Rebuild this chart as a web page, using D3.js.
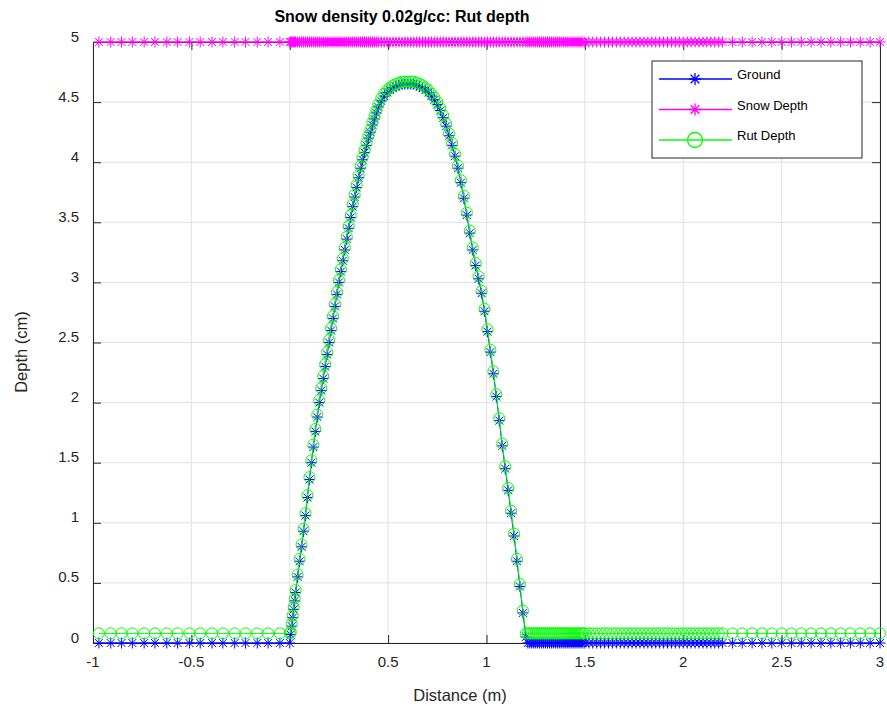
<!DOCTYPE html>
<html>
<head>
<meta charset="utf-8">
<script src="https://cdn.jsdelivr.net/npm/d3@7"></script>
<style>
  body { margin: 0; background: #fff; }
  text { font-family: "Liberation Sans", Arial, sans-serif; }
</style>
</head>
<body>
<div id="chart"></div>
<script>
// sample positions (m) before the rut, across the rut, and after it
var leftX = [-0.97, -0.91, -0.855, -0.8, -0.74, -0.685, -0.625, -0.57, -0.51, -0.455,
  -0.395, -0.34, -0.28, -0.225, -0.165, -0.11, -0.05]

var bumpX = [0, 0.005, 0.01, 0.015, 0.02, 0.025, 0.03, 0.04, 0.05, 0.06, 0.07, 0.08, 0.09,
  0.1, 0.11, 0.12, 0.13, 0.14, 0.15, 0.16, 0.17, 0.18, 0.19,
  0.2, 0.21, 0.22, 0.23, 0.24, 0.25, 0.26, 0.27, 0.28, 0.29,
  0.3, 0.31, 0.32, 0.33, 0.34, 0.35, 0.36, 0.37, 0.38, 0.39,
  0.4, 0.41, 0.42, 0.43, 0.44, 0.45,
  0.465, 0.48, 0.495, 0.51, 0.525, 0.54, 0.555, 0.57, 0.585,
  0.6, 0.615, 0.63, 0.645, 0.66, 0.675, 0.69, 0.705, 0.72, 0.735,
  0.75, 0.765, 0.78, 0.795, 0.81, 0.825, 0.84, 0.855, 0.87, 0.885,
  0.9, 0.915, 0.93, 0.945, 0.96, 0.975, 0.99, 1.005, 1.02, 1.035,
  1.05, 1.065, 1.08, 1.095, 1.11, 1.125, 1.14, 1.155, 1.17, 1.185, 1.2]

var rightX = [1.21, 1.22, 1.23, 1.24, 1.25, 1.26, 1.27, 1.28, 1.29, 1.3,
  1.31, 1.32, 1.33, 1.34, 1.35, 1.36, 1.37, 1.38, 1.39, 1.4,
  1.41, 1.42, 1.43, 1.44, 1.45, 1.46, 1.47, 1.48, 1.49, 1.5,
  1.52, 1.54, 1.56, 1.58, 1.6, 1.62, 1.64, 1.66, 1.68, 1.7,
  1.72, 1.74, 1.76, 1.78, 1.8, 1.82, 1.84, 1.86, 1.88, 1.9,
  1.92, 1.94, 1.96, 1.98, 2, 2.02, 2.04, 2.06, 2.08, 2.1,
  2.12, 2.14, 2.16, 2.18, 2.2, 2.25, 2.3, 2.35, 2.4, 2.45,
  2.5, 2.55, 2.6, 2.65, 2.7, 2.75, 2.8, 2.85, 2.9, 2.95, 3]

// ground profile across the rut (cm)
var groundBump = [0, 0.07, 0.14, 0.21, 0.28, 0.35, 0.42, 0.55, 0.68, 0.80, 0.93, 1.06, 1.21,
  1.36, 1.50, 1.63, 1.76, 1.88, 2.00, 2.10, 2.20, 2.30, 2.40,
  2.50, 2.60, 2.70, 2.80, 2.90, 3.00, 3.09, 3.18, 3.27, 3.36,
  3.45, 3.54, 3.63, 3.71, 3.79, 3.87, 3.95, 4.02, 4.08, 4.14,
  4.20, 4.25, 4.31, 4.36, 4.41, 4.46,
  4.51, 4.55, 4.58, 4.60, 4.62, 4.63, 4.64, 4.65, 4.65,
  4.65, 4.65, 4.65, 4.64, 4.63, 4.62, 4.60, 4.58, 4.55, 4.52,
  4.48, 4.43, 4.37, 4.30, 4.22, 4.14, 4.05, 3.95, 3.83, 3.70,
  3.56, 3.41, 3.27, 3.14, 3.03, 2.91, 2.76, 2.59, 2.42, 2.24,
  2.05, 1.85, 1.64, 1.45, 1.27, 1.08, 0.89, 0.68, 0.47, 0.25, 0.05]

// rut depth across the rut (cm)
var rutBump = [0.08, 0.09, 0.16, 0.23, 0.30, 0.37, 0.44, 0.57, 0.70, 0.82, 0.95, 1.08, 1.23,
  1.38, 1.52, 1.65, 1.78, 1.90, 2.02, 2.12, 2.22, 2.32, 2.42,
  2.52, 2.62, 2.72, 2.82, 2.92, 3.02, 3.11, 3.20, 3.29, 3.38,
  3.47, 3.56, 3.65, 3.73, 3.81, 3.89, 3.97, 4.04, 4.10, 4.16,
  4.22, 4.27, 4.33, 4.38, 4.43, 4.48,
  4.53, 4.57, 4.60, 4.62, 4.64, 4.65, 4.66, 4.67, 4.67,
  4.67, 4.67, 4.67, 4.66, 4.65, 4.64, 4.62, 4.60, 4.57, 4.54,
  4.50, 4.45, 4.39, 4.32, 4.24, 4.16, 4.07, 3.97, 3.85, 3.72,
  3.58, 3.43, 3.29, 3.16, 3.05, 2.93, 2.78, 2.61, 2.44, 2.26,
  2.07, 1.87, 1.66, 1.47, 1.29, 1.10, 0.91, 0.70, 0.49, 0.27, 0.08]

var groundFlat = 0
var rutFlat = 0.08
var snowDepth = 5

var xTicks = [-1, -0.5, 0, 0.5, 1, 1.5, 2, 2.5, 3]
var yTicks = [0, 0.5, 1, 1.5, 2, 2.5, 3, 3.5, 4, 4.5, 5]

var allX = leftX.concat(bumpX, rightX)
var ground = leftX.map(function(x){ return [x, groundFlat] })
  .concat(bumpX.map(function(x, i){ return [x, groundBump[i]] }))
  .concat(rightX.map(function(x){ return [x, groundFlat] }))
var rut = leftX.map(function(x){ return [x, rutFlat] })
  .concat(bumpX.map(function(x, i){ return [x, rutBump[i]] }))
  .concat(rightX.map(function(x){ return [x, rutFlat] }))
var snow = allX.map(function(x){ return [x, snowDepth] })

var width = 887, height = 708
var plotLeft = 93, plotRight = 880, plotTop = 42, plotBottom = 643

var svg = d3.select("#chart")
  .append("svg")
  .attr('width', width)
  .attr('height', height)

var x = d3.scaleLinear().domain([-1, 3]).range([plotLeft, plotRight])
var y = d3.scaleLinear().domain([0, 5]).range([plotBottom, plotTop])

// grid
svg.append('g').selectAll('line').data(xTicks).enter().append('line')
  .attr('x1', d => x(d)).attr('x2', d => x(d))
  .attr('y1', plotTop).attr('y2', plotBottom)
  .attr('stroke', '#e2e2e2').attr('stroke-width', 1)
svg.append('g').selectAll('line').data(yTicks).enter().append('line')
  .attr('x1', plotLeft).attr('x2', plotRight)
  .attr('y1', d => y(d)).attr('y2', d => y(d))
  .attr('stroke', '#e2e2e2').attr('stroke-width', 1)

// axes box with inward ticks on all sides
var axisColor = '#262626'
svg.append('g').attr('transform', 'translate(0,' + plotBottom + ')')
  .call(d3.axisBottom(x).tickValues(xTicks).tickSize(-8).tickFormat(''))
svg.append('g').attr('transform', 'translate(0,' + plotTop + ')')
  .call(d3.axisTop(x).tickValues(xTicks).tickSize(-8).tickFormat(''))
svg.append('g').attr('transform', 'translate(' + plotLeft + ',0)')
  .call(d3.axisLeft(y).tickValues(yTicks).tickSize(-8).tickFormat(''))
svg.append('g').attr('transform', 'translate(' + plotRight + ',0)')
  .call(d3.axisRight(y).tickValues(yTicks).tickSize(-8).tickFormat(''))
svg.selectAll('.domain').attr('stroke', axisColor).attr('stroke-width', 1)
svg.selectAll('.tick line').attr('stroke', axisColor).attr('stroke-width', 1)

// tick labels
svg.append('g').selectAll('text').data(xTicks).enter().append('text')
  .attr('x', d => x(d))
  .attr('y', plotBottom + 24)
  .attr('text-anchor', 'middle')
  .attr('font-size', 15)
  .attr('fill', '#262626')
  .text(d => d)
svg.append('g').selectAll('text').data(yTicks).enter().append('text')
  .attr('x', plotLeft - 14)
  .attr('y', d => y(d) - 0.5)
  .attr('text-anchor', 'end')
  .attr('font-size', 15)
  .attr('fill', '#262626')
  .text(d => d)

// labels and title
svg.append('text')
  .attr('x', 460).attr('y', 701)
  .attr('text-anchor', 'middle')
  .attr('font-size', 16.5)
  .attr('fill', '#262626')
  .text('Distance (m)')
svg.append('text')
  .attr('transform', 'translate(27,352) rotate(-90)')
  .attr('text-anchor', 'middle')
  .attr('font-size', 16.5)
  .attr('fill', '#262626')
  .text('Depth (cm)')
svg.append('text')
  .attr('x', 402).attr('y', 22)
  .attr('text-anchor', 'middle')
  .attr('font-size', 16)
  .attr('font-weight', 'bold')
  .attr('fill', '#000')
  .text('Snow density 0.02g/cc: Rut depth')

// marker shapes
function starPath(r){
  var d = r * 0.72
  return 'M' + (-r) + ',0L' + r + ',0M0,' + (-r) + 'L0,' + r +
    'M' + (-d) + ',' + (-d) + 'L' + d + ',' + d +
    'M' + (-d) + ',' + d + 'L' + d + ',' + (-d)
}

var line = d3.line().x(d => x(d[0])).y(d => y(d[1]))

function drawSeries(data, color, marker){
  var g = svg.append('g')
  g.append('path')
    .datum(data)
    .attr('d', line)
    .attr('fill', 'none')
    .attr('stroke', color)
    .attr('stroke-width', 1)
  if(marker == 'star'){
    g.selectAll('path.m').data(data).enter().append('path')
      .attr('class', 'm')
      .attr('transform', d => 'translate(' + x(d[0]) + ',' + y(d[1]) + ')')
      .attr('d', starPath(5.5))
      .attr('stroke', color)
      .attr('stroke-width', 1)
      .attr('fill', 'none')
  } else {
    g.selectAll('circle').data(data).enter().append('circle')
      .attr('cx', d => x(d[0]))
      .attr('cy', d => y(d[1]))
      .attr('r', 5.5)
      .attr('stroke', color)
      .attr('stroke-width', 1)
      .attr('fill', 'none')
  }
}

drawSeries(ground, '#0000ff', 'star')
drawSeries(snow, '#ff00ff', 'star')
drawSeries(rut, '#00ff00', 'circle')

// legend
var legendItems = [
  {name: 'Ground', color: '#0000ff', marker: 'star'},
  {name: 'Snow Depth', color: '#ff00ff', marker: 'star'},
  {name: 'Rut Depth', color: '#00ff00', marker: 'circle'}
]
var legend = svg.append('g')
legend.append('rect')
  .attr('x', 652).attr('y', 61)
  .attr('width', 210).attr('height', 97)
  .attr('fill', '#fff')
  .attr('stroke', '#262626')
  .attr('stroke-width', 1)
legendItems.forEach(function(item, i){
  var ly = 79 + i * 30.5
  legend.append('line')
    .attr('x1', 659).attr('x2', 732)
    .attr('y1', ly).attr('y2', ly)
    .attr('stroke', item.color)
    .attr('stroke-width', 1.3)
  if(item.marker == 'star'){
    legend.append('path')
      .attr('transform', 'translate(695,' + ly + ')')
      .attr('d', starPath(6))
      .attr('stroke', item.color)
      .attr('stroke-width', 1.3)
      .attr('fill', 'none')
  } else {
    legend.append('circle')
      .attr('cx', 695).attr('cy', ly).attr('r', 7.5)
      .attr('stroke', item.color)
      .attr('stroke-width', 1.3)
      .attr('fill', 'none')
  }
  legend.append('text')
    .attr('x', 737).attr('y', ly)
    .attr('font-size', 13)
    .attr('fill', '#000')
    .text(item.name)
})
</script>
</body>
</html>
